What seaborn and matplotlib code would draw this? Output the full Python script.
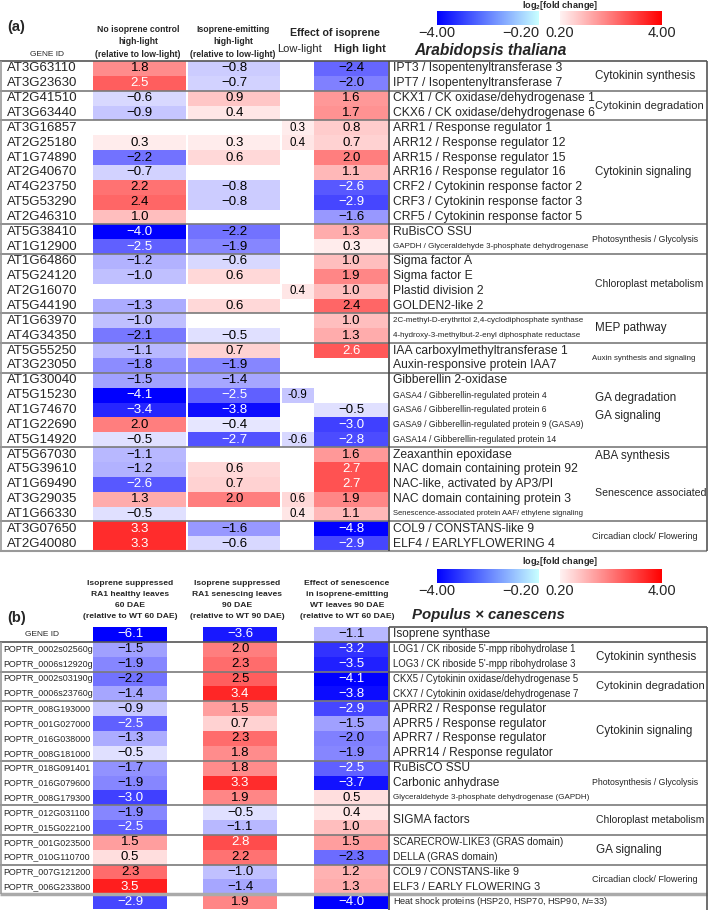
import numpy as np
import pandas as pd
import seaborn as sns
import matplotlib
matplotlib.use("Agg")
import matplotlib.pyplot as plt
from matplotlib.colors import LinearSegmentedColormap, Normalize
from matplotlib.cm import ScalarMappable

sns.set_theme(style="white")
SANS = ['Liberation Sans', 'DejaVu Sans']
plt.rcParams['font.family'] = SANS
plt.rcParams['mathtext.fontset'] = 'custom'
plt.rcParams['mathtext.rm'] = 'Liberation Sans'
plt.rcParams['mathtext.it'] = 'Liberation Sans:italic'
plt.rcParams['mathtext.bf'] = 'Liberation Sans:bold'

nan = np.nan

# ------------------------- DATA (a) Arabidopsis -------------------------
genes_a = ["AT3G63110", "AT3G23630", "AT2G41510", "AT3G63440", "AT3G16857", "AT2G25180",
           "AT1G74890", "AT2G40670", "AT4G23750", "AT5G53290", "AT2G46310", "AT5G38410",
           "AT1G12900", "AT1G64860", "AT5G24120", "AT2G16070", "AT5G44190", "AT1G63970",
           "AT4G34350", "AT5G55250", "AT3G23050", "AT1G30040", "AT5G15230", "AT1G74670",
           "AT1G22690", "AT5G14920", "AT5G67030", "AT5G39610", "AT1G69490", "AT3G29035",
           "AT1G66330", "AT3G07650", "AT2G40080"]
no_iso_highlight = [1.8, 2.5, -0.6, -0.9, nan, 0.3, -2.2, -0.7, 2.2, 2.4, 1.0, -4.0, -2.5,
                    -1.2, -1.0, nan, -1.3, -1.0, -2.1, -1.1, -1.8, -1.5, -4.1, -3.4, 2.0, -0.5,
                    -1.1, -1.2, -2.6, 1.3, -0.5, 3.3, 3.3]
iso_emit_highlight = [-0.8, -0.7, 0.9, 0.4, nan, 0.3, 0.6, nan, -0.8, -0.8, nan, -2.2, -1.9,
                      -0.6, 0.6, nan, 0.6, nan, -0.5, 0.7, -1.9, -1.4, -2.5, -3.8, -0.4, -2.7,
                      nan, 0.6, 0.7, 2.0, nan, -1.6, -0.6]
effect_lowlight = [nan, nan, nan, nan, 0.3, 0.4, nan, nan, nan, nan, nan, nan, nan,
                   nan, nan, 0.4, nan, nan, nan, nan, nan, nan, -0.9, nan, nan, -0.6,
                   nan, nan, nan, 0.6, 0.4, nan, nan]
effect_highlight = [-2.4, -2.0, 1.6, 1.7, 0.8, 0.7, 2.0, 1.1, -2.6, -2.9, -1.6, 1.3, 0.3,
                    1.0, 1.9, 1.0, 2.4, 1.0, 1.3, 2.6, nan, nan, nan, -0.5, -3.0, -2.8,
                    1.6, 2.7, 2.7, 1.9, 1.1, -4.8, -2.9]
desc_a = ["IPT3 / Isopentenyltransferase 3", "IPT7 / Isopentenyltransferase 7",
          "CKX1 / CK oxidase/dehydrogenase 1", "CKX6 / CK oxidase/dehydrogenase 6",
          "ARR1 / Response regulator 1", "ARR12 / Response regulator 12",
          "ARR15 / Response regulator 15", "ARR16 / Response regulator 16",
          "CRF2 / Cytokinin response factor 2", "CRF3 / Cytokinin response factor 3",
          "CRF5 / Cytokinin response factor 5", "RuBisCO SSU",
          "GAPDH / Glyceraldehyde 3-phosphate dehydrogenase",
          "Sigma factor A", "Sigma factor E", "Plastid division 2", "GOLDEN2-like 2",
          "2C-methyl-D-erythritol 2,4-cyclodiphosphate synthase",
          "4-hydroxy-3-methylbut-2-enyl diphosphate reductase",
          "IAA carboxylmethyltransferase 1", "Auxin-responsive protein IAA7",
          "Gibberellin 2-oxidase", "GASA4 / Gibberellin-regulated protein 4",
          "GASA6 / Gibberellin-regulated protein 6",
          "GASA9 / Gibberellin-regulated protein 9 (GASA9)",
          "GASA14 / Gibberellin-regulated protein 14", "Zeaxanthin epoxidase",
          "NAC domain containing protein 92", "NAC-like, activated by AP3/PI",
          "NAC domain containing protein 3",
          "Senescence-associated protein AAF/ ethylene signaling",
          "COL9 / CONSTANS-like 9", "ELF4 / EARLYFLOWERING 4"]
categories_a = ["Cytokinin synthesis", "Cytokinin degradation", "Cytokinin signaling",
                "Photosynthesis / Glycolysis", "Chloroplast metabolism", "MEP pathway",
                "Auxin synthesis and signaling", "GA degradation", "GA signaling",
                "ABA synthesis", "Senescence associated", "Circadian clock/ Flowering"]
cat_rows_a = [1.0, 3.0, 7.5, 12.0, 15.0, 18.0, 20.0, 22.7, 23.9, 26.6, 29.1, 32.0]
group_edges_a = [2, 4, 11, 13, 17, 19, 21, 26, 31]

# ------------------------- DATA (b) Populus -------------------------
genes_b = ["GENE ID", "POPTR_0002s02560g", "POPTR_0006s12920g", "POPTR_0002s03190g",
           "POPTR_0006s23760g", "POPTR_008G193000", "POPTR_001G027000", "POPTR_016G038000",
           "POPTR_008G181000", "POPTR_018G091401", "POPTR_016G079600", "POPTR_008G179300",
           "POPTR_012G031100", "POPTR_015G022100", "POPTR_001G023500", "POPTR_010G110700",
           "POPTR_007G121200", "POPTR_006G233800", ""]
ra1_60dae = [-6.1, -1.5, -1.9, -2.2, -1.4, -0.9, -2.5, -1.3, -0.5, -1.7, -1.9, -3.0,
             -1.9, -2.5, 1.5, 0.5, 2.3, 3.5, -2.9]
ra1_90dae = [-3.6, 2.0, 2.3, 2.5, 3.4, 1.5, 0.7, 2.3, 1.8, 1.8, 3.3, 1.9,
             -0.5, -1.1, 2.8, 2.2, -1.0, -1.4, 1.9]
senescence_wt = [-1.1, -3.2, -3.5, -4.1, -3.8, -2.9, -1.5, -2.0, -1.9, -2.5, -3.7, 0.5,
                 0.4, 1.0, 1.5, -2.3, 1.2, 1.3, -4.0]
desc_b = ["Isoprene synthase", "LOG1 / CK riboside 5'-mpp ribohydrolase 1",
          "LOG3 / CK riboside 5'-mpp ribohydrolase 3",
          "CKX5 / Cytokinin oxidase/dehydrogenase 5",
          "CKX7 / Cytokinin oxidase/dehydrogenase 7",
          "APRR2 / Response regulator", "APRR5 / Response regulator",
          "APRR7 / Response regulator", "APRR14 / Response regulator",
          "RuBisCO SSU", "Carbonic anhydrase",
          "Glyceraldehyde 3-phosphate dehydrogenase (GAPDH)",
          "SIGMA factors", None,
          "SCARECROW-LIKE3 (GRAS domain)", "DELLA (GRAS domain)",
          "COL9 / CONSTANS-like 9", "ELF3 / EARLY FLOWERING 3",
          "Heat shock proteins (HSP20, HSP70, HSP90, $N$=33)"]
categories_b = ["Cytokinin synthesis", "Cytokinin degradation", "Cytokinin signaling",
                "Photosynthesis / Glycolysis", "Chloroplast metabolism", "GA signaling",
                "Circadian clock/ Flowering"]
cat_rows_b = [2.0, 4.0, 7.0, 10.5, 13.0, 15.0, 17.0]
group_edges_b = [3, 5, 9, 12, 14, 16]

headers_a = ["No isoprene control\nhigh-light\n(relative to low-light)",
             "Isoprene-emitting\nhigh-light\n(relative to low-light)"]
headers_b = ["Isoprene suppressed\nRA1 healthy leaves\n60 DAE\n(relative to WT 60 DAE)",
             "Isoprene suppressed\nRA1 senescing leaves\n90 DAE\n(relative to WT 90 DAE)",
             "Effect of senescence\nin isoprene-emitting\nWT leaves 90 DAE\n(relative to WT 60 DAE)"]

# ------------------------- styling -------------------------
W, H = 709, 910
RH = 14.85
TOP_A, TOP_B = 61.0, 627.0
LINE = '#7a7a7a'
cell_cmap = LinearSegmentedColormap.from_list('bwr_cells', ['#0000ff', '#ffffff', '#ff0000'])
blue_cbar = LinearSegmentedColormap.from_list('blue_cb', ['#0000ff', '#c8ffff'])
red_cbar = LinearSegmentedColormap.from_list('red_cb', ['#fff2f2', '#ff0000'])

fig = plt.figure(figsize=(W / 100, H / 100), dpi=100)
fig.patch.set_facecolor('white')
bg = fig.add_axes([0, 0, 1, 1])
bg.set_xlim(0, W)
bg.set_ylim(H, 0)
bg.axis('off')
bg.set_zorder(5)


def heat_col(values, x0, x1, top, minus='\u2212', fs=9.5, pos_white=2.5, neg_white=-2.5):
    n = len(values)
    ax = fig.add_axes([x0 / W, 1 - (top + n * RH) / H, (x1 - x0) / W, n * RH / H])
    df = pd.DataFrame({'v': values})
    sns.heatmap(df, ax=ax, cmap=cell_cmap, vmin=-4, vmax=4, cbar=False,
                xticklabels=False, yticklabels=False)
    ax.set_facecolor('white')
    for i, v in enumerate(values):
        if np.isnan(v):
            continue
        s = f"{abs(v):.1f}"
        s = minus + s if v < 0 else s
        col = 'white' if (v >= pos_white or v <= neg_white) else 'black'
        ax.text(0.5, i + 0.5, s, ha='center', va='center', color=col, fontsize=fs)
    return ax


def ry(top, r):
    return top + r * RH


def hline(y, x0=0, x1=707, color=LINE, lw=1.2):
    bg.plot([x0, x1], [y, y], color=color, lw=lw, solid_capstyle='butt')


def vline(x, y0, y1, color=LINE, lw=1.2):
    bg.plot([x, x], [y0, y1], color=color, lw=lw, solid_capstyle='butt')


def colorbar_pair(y_bar, y_title):
    cax1 = fig.add_axes([437 / W, 1 - (y_bar + 14) / H, 102 / W, 14 / H])
    cb1 = fig.colorbar(ScalarMappable(Normalize(-4, -0.2), blue_cbar), cax=cax1,
                       orientation='horizontal')
    cb1.set_ticks([-4, -0.2])
    cb1.set_ticklabels(['\u22124.00', '\u22120.20'])
    cax2 = fig.add_axes([560 / W, 1 - (y_bar + 14) / H, 102 / W, 14 / H])
    cb2 = fig.colorbar(ScalarMappable(Normalize(0.2, 4), red_cbar), cax=cax2,
                       orientation='horizontal')
    cb2.set_ticks([0.2, 4])
    cb2.set_ticklabels(['0.20', '4.00'])
    for cb, cax in ((cb1, cax1), (cb2, cax2)):
        cb.outline.set_visible(False)
        cax.tick_params(axis='x', length=0, labelsize=10.5, pad=0.5)
    cax1.get_xticklabels()[1].set_ha('right')
    bg.text(560, y_title, r'log$_\mathbf{2}$[fold change]', ha='center', va='center',
            fontsize=6.6, fontweight='bold')


# ------------------------- (a) -------------------------
bg.text(7, 27, '(a)', fontsize=10.5, fontweight='bold', va='center', ha='left')
colorbar_pair(11, 6)
for txt, xc in zip(headers_a, [138, 233]):
    bg.text(xc, 42, txt, ha='center', va='center', fontsize=6.2, fontweight='bold',
            linespacing=1.55)
bg.text(335, 33, 'Effect of isoprene', ha='center', va='center', fontsize=7.7,
        fontweight='bold')
bg.text(300, 49, 'Low-light', ha='center', va='center', fontsize=8.0)
bg.text(360, 49, 'High light', ha='center', va='center', fontsize=8.1, fontweight='bold')
bg.text(47, 55, 'GENE ID', ha='center', va='center', fontsize=6.0)
bg.text(414, 51, 'Arabidopsis thaliana', ha='left', va='center', fontsize=11.2,
        fontweight='bold', fontstyle='italic')

heat_col(no_iso_highlight, 93, 186.5, TOP_A)
heat_col(iso_emit_highlight, 188, 280.5, TOP_A)
heat_col(effect_lowlight, 282, 313.5, TOP_A, minus='-', fs=8.3)
heat_col(effect_highlight, 314, 388.5, TOP_A)

for i, g in enumerate(genes_a):
    bg.text(7, ry(TOP_A, i + 0.5), g, ha='left', va='center', fontsize=9.5)

small_desc_a = {12: 5.8, 17: 5.8, 18: 5.8, 22: 6.2, 23: 6.2, 24: 6.2, 25: 6.2, 30: 5.5}
for i, d in enumerate(desc_a):
    bg.text(393, ry(TOP_A, i + 0.5), d, ha='left', va='center',
            fontsize=small_desc_a.get(i, 8.7))

cat_size_a = {0: 8.4, 1: 8.0, 2: 8.3, 3: 6.3, 4: 7.5, 5: 8.4, 6: 5.7, 7: 8.4, 8: 8.4,
              9: 8.4, 10: 7.6, 11: 6.5}
for k, (c, r) in enumerate(zip(categories_a, cat_rows_a)):
    bg.text(592 if k in (3, 6, 11) else 595, ry(TOP_A, r), c, ha='left', va='center',
            fontsize=cat_size_a[k])

hline(TOP_A, color='#555555')
for e in group_edges_a:
    hline(ry(TOP_A, e))
hline(ry(TOP_A, 33), color='#999999', lw=1.5)
vline(1, TOP_A, ry(TOP_A, 33), color='#999999')
vline(388.8, TOP_A, ry(TOP_A, 33), color='#444444')
vline(707, TOP_A, ry(TOP_A, 33), color='#555555')

# ------------------------- (b) -------------------------
bg.text(7, 618, '(b)', fontsize=10.5, fontweight='bold', va='center', ha='left')
colorbar_pair(569, 562)
for txt, xc in zip(headers_b, [130, 237, 347]):
    bg.text(xc, 600, txt, ha='center', va='center', fontsize=6.1, fontweight='bold',
            linespacing=1.75)
bg.text(412, 615, 'Populus \u00d7 canescens', ha='left', va='center', fontsize=10.8,
        fontweight='bold', fontstyle='italic')

heat_col(ra1_60dae, 93, 167, TOP_B, pos_white=2.6)
heat_col(ra1_90dae, 203, 277, TOP_B, pos_white=2.6)
heat_col(senescence_wt, 314, 388.5, TOP_B, pos_white=2.6)

for i, g in enumerate(genes_b):
    if i == 0:
        bg.text(42, ry(TOP_B, 0.5), g, ha='center', va='center', fontsize=6.0)
    else:
        bg.text(3, ry(TOP_B, i + 0.5), g, ha='left', va='center', fontsize=6.4)

desc_size_b = {1: 6.9, 2: 6.9, 3: 6.9, 4: 6.9, 11: 5.8, 14: 7.2, 15: 7.2, 16: 7.8,
               17: 7.8, 18: 6.6}
for i, d in enumerate(desc_b):
    if d is None:
        continue
    y = ry(TOP_B, 13.0) if d == "SIGMA factors" else ry(TOP_B, i + 0.5)
    bg.text(393, y, d, ha='left', va='center', fontsize=desc_size_b.get(i, 8.6))

cat_size_b = {0: 8.4, 1: 8.0, 2: 8.3, 3: 6.3, 4: 7.5, 5: 8.4, 6: 6.5}
for k, (c, r) in enumerate(zip(categories_b, cat_rows_b)):
    bg.text(592 if k in (3, 6) else 596, ry(TOP_B, r), c, ha='left', va='center',
            fontsize=cat_size_b[k])

hline(TOP_B, x0=388.8, color='#555555')
hline(ry(TOP_B, 1), color='#555555')
for e in group_edges_b:
    hline(ry(TOP_B, e))
hline(ry(TOP_B, 18), color='#aaaaaa', lw=2.5)
vline(1, ry(TOP_B, 1), ry(TOP_B, 18), color='#999999')
vline(388.8, TOP_B, H, color='#444444')
vline(707, TOP_B, H, color='#555555')

fig.savefig('out.png', dpi=100, facecolor='white')
